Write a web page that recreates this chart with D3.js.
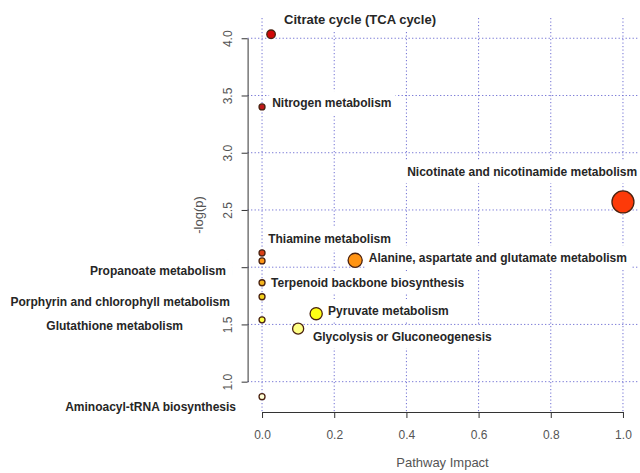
<!DOCTYPE html>
<html>
<head>
<meta charset="utf-8">
<script src="https://cdn.jsdelivr.net/npm/d3@7/dist/d3.min.js"></script>
<style>
  html, body { margin: 0; padding: 0; background: #fff; }
  svg { display: block; }
</style>
</head>
<body>
<svg id="chart" width="640" height="473"></svg>
<script>
// ---- data ----
const pathways = [
  "Citrate cycle (TCA cycle)",
  "Nitrogen metabolism",
  "Nicotinate and nicotinamide metabolism",
  "Thiamine metabolism",
  "Alanine, aspartate and glutamate metabolism",
  "Propanoate metabolism",
  "Terpenoid backbone biosynthesis",
  "Porphyrin and chlorophyll metabolism",
  "Glutathione metabolism",
  "Pyruvate metabolism",
  "Glycolysis or Gluconeogenesis",
  "Aminoacyl-tRNA biosynthesis"
];
const impact = [0.025, 0.0, 1.0, 0.0, 0.258, 0.0, 0.0, 0.0, 0.0, 0.15, 0.10, 0.0];
const negLogP = [4.035, 3.40, 2.57, 2.125, 2.06, 2.055, 1.864, 1.742, 1.54, 1.594, 1.463, 0.869];
// label anchor points in data units, and text anchoring side
const labelX = [0.061, 0.028, 0.402, 0.017, 0.296, -0.100, 0.025, -0.089, -0.219, 0.183, 0.141, -0.072];
const labelY = [4.16, 3.435, 2.832, 2.247, 2.086, 1.968, 1.863, 1.697, 1.487, 1.618, 1.391, 0.78];
const labelSide = ["start","start","start","start","start","end","start","end","end","start","start","end"];
const xTicks = [0, 0.2, 0.4, 0.6, 0.8, 1.0];
const yTicks = [1.0, 1.5, 2.0, 2.5, 3.0, 3.5, 4.0];
const xTitle = "Pathway Impact";
const yTitle = "-log(p)";

// ---- layout ----
const svg = d3.select("#chart");
const plot = { left: 247.6, right: 637.4, top: 18, bottom: 412 };

const x = d3.scaleLinear().domain([-0.04, 1.04]).range([plot.left, plot.right]);
const y = d3.scaleLinear().domain([0.735, 4.177]).range([plot.bottom, plot.top]);
const r = v => 3 + 8 * Math.sqrt(v);
const color = d3.scaleLinear()
  .domain([0.85, 1.45, 1.6, 1.8, 2.06, 2.1, 2.6, 3.4, 4.05])
  .range(["#ffffd8", "#ffff90", "#ffff10", "#f0c020", "#ff9414", "#d84018", "#ff3a08", "#c01818", "#d00808"])
  .interpolate(d3.interpolateRgb);

const rows = pathways.map((name, i) => ({
  name, impact: impact[i], p: negLogP[i],
  lx: labelX[i], ly: labelY[i], side: labelSide[i]
}));

const axisFont = "'Liberation Sans', Arial, sans-serif";

// ---- grid ----
const grid = svg.append("g")
  .attr("stroke", "#5656cc").attr("stroke-width", 1)
  .attr("stroke-dasharray", "1.2,2.3").attr("opacity", 0.85);
grid.selectAll("line.v").data(xTicks).join("line").attr("class", "v")
  .attr("x1", d => x(d)).attr("x2", d => x(d))
  .attr("y1", plot.top).attr("y2", plot.bottom);
grid.selectAll("line.h").data(yTicks).join("line").attr("class", "h")
  .attr("x1", plot.left).attr("x2", plot.right)
  .attr("y1", d => y(d)).attr("y2", d => y(d));

// ---- axes ----
const xa = svg.append("g").attr("transform", `translate(0,${plot.bottom})`)
  .call(d3.axisBottom(x.copy().domain([0, 1]).range([x(0), x(1)]))
    .tickValues(xTicks).tickSize(6).tickSizeOuter(0).tickFormat(d3.format(".1f")));
xa.select(".domain").attr("stroke", "#333");
xa.selectAll(".tick line").attr("stroke", "#333");
xa.selectAll(".tick text").attr("y", 18).attr("font-size", 12)
  .attr("font-family", axisFont).attr("fill", "#555");

const ya = svg.append("g").attr("transform", `translate(${plot.left},0)`)
  .call(d3.axisLeft(y.copy().domain([1, 4]).range([y(1), y(4)]))
    .tickValues(yTicks).tickSize(6).tickSizeOuter(0).tickFormat(d3.format(".1f")));
ya.select(".domain").attr("stroke", "#333");
ya.selectAll(".tick line").attr("stroke", "#333");
ya.selectAll(".tick text")
  .attr("x", null).attr("dy", null)
  .attr("transform", "translate(-15.5,0) rotate(-90)")
  .attr("text-anchor", "middle").attr("font-size", 12)
  .attr("font-family", axisFont).attr("fill", "#555");

svg.append("text")
  .attr("x", (plot.left + plot.right) / 2).attr("y", 467)
  .attr("text-anchor", "middle").attr("font-size", 13)
  .attr("font-family", axisFont).attr("fill", "#555").text(xTitle);
svg.append("text")
  .attr("transform", `translate(203,${(plot.top + plot.bottom) / 2}) rotate(-90)`)
  .attr("text-anchor", "middle").attr("font-size", 13)
  .attr("font-family", axisFont).attr("fill", "#555").text(yTitle);

// ---- labels with white boxes (drawn over grid and axis labels) ----
const labG = svg.append("g")
  .attr("font-family", axisFont)
  .attr("font-weight", "bold").attr("fill", "#262626");
const labs = labG.selectAll("g").data(rows).join("g");
labs.each(function(d, i) {
  const g = d3.select(this);
  const t = g.append("text")
    .attr("x", x(d.lx)).attr("y", y(d.ly))
    .attr("dy", "0.35em")
    .attr("text-anchor", d.side)
    .attr("font-size", i === 0 ? 13 : 12)
    .text(d.name);
  const b = t.node().getBBox();
  const padL = d.side === "end" ? 4 : 3;
  const padR = d.side === "end" ? 7 : 4;
  g.insert("rect", "text")
    .attr("x", b.x - padL).attr("y", b.y - 5)
    .attr("width", b.width + padL + padR).attr("height", b.height + 9)
    .attr("fill", "#fff");
});

// ---- points ----
svg.append("g").selectAll("circle").data(rows).join("circle")
  .attr("cx", d => x(d.impact)).attr("cy", d => y(d.p))
  .attr("r", d => r(d.impact))
  .attr("fill", d => color(d.p))
  .attr("stroke", "#4a2210").attr("stroke-width", 1.3);
</script>
</body>
</html>
